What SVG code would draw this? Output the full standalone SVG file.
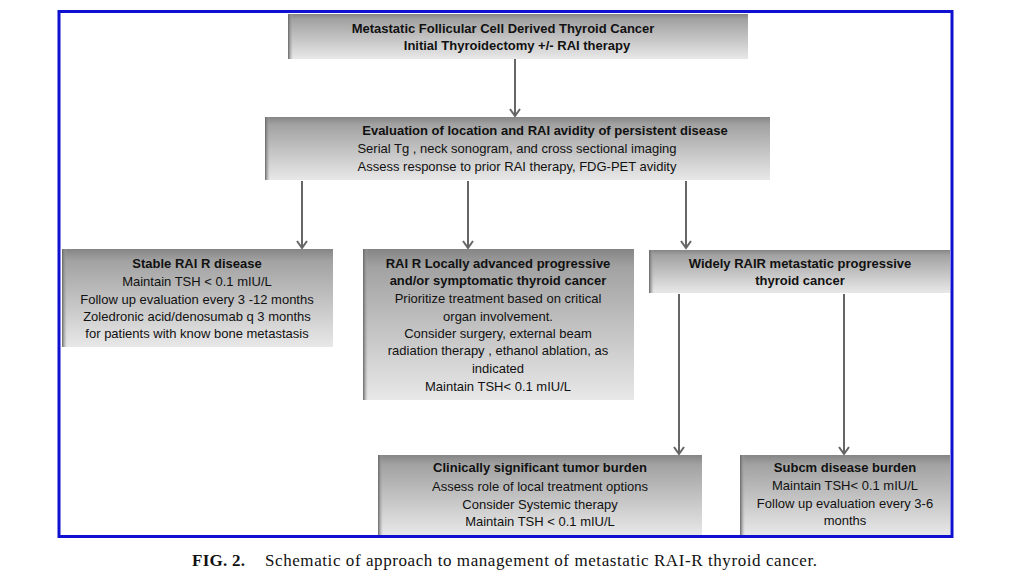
<svg xmlns="http://www.w3.org/2000/svg" width="1024" height="576" viewBox="0 0 1024 576">
<defs>
<linearGradient id="g" x1="0" y1="0" x2="0" y2="1">
<stop offset="0" stop-color="#858585"/>
<stop offset="0.12" stop-color="#a2a2a2"/>
<stop offset="1" stop-color="#e8e8e8"/>
</linearGradient>
<linearGradient id="edge" x1="0" y1="0" x2="1" y2="0">
<stop offset="0" stop-color="#666"/>
<stop offset="1" stop-color="#b0b0b0" stop-opacity="0"/>
</linearGradient>
<marker id="ah" viewBox="0 0 12 12" refX="10" refY="6" markerWidth="12" markerHeight="12" markerUnits="userSpaceOnUse" orient="auto">
<path d="M3,1 L10,6 L3,11" fill="none" stroke="#666" stroke-width="2"/>
</marker>
<style>
.box{fill:url(#g);}
.edge{fill:url(#edge);}
.t{font-family:"Liberation Sans",Arial,sans-serif;font-size:13px;fill:#111;text-anchor:middle;}
.b{font-weight:bold;}
.c{stroke:#666;stroke-width:2;fill:none;marker-end:url(#ah);}
.cap{font-family:"Liberation Serif","Times New Roman",serif;font-size:17px;fill:#111;}
</style>
</defs>
<rect width="1024" height="576" fill="#fff"/>
<rect x="59" y="11.5" width="893" height="525" fill="none" stroke="#1010d0" stroke-width="3"/>

<g id="connectors">
<line class="c" x1="515" y1="59" x2="515" y2="116"/>
<line class="c" x1="302" y1="181" x2="302" y2="248"/>
<line class="c" x1="468" y1="181" x2="468" y2="248"/>
<line class="c" x1="686" y1="181" x2="686" y2="248"/>
<line class="c" x1="679" y1="294" x2="679" y2="454"/>
<line class="c" x1="844" y1="294" x2="844" y2="454"/>
</g>

<g id="n1">
<rect class="box" x="288" y="14" width="460" height="45"/>
<rect class="edge" x="288" y="14" width="5" height="45"/>
<text class="t b" x="503" y="33">Metastatic Follicular Cell Derived Thyroid Cancer</text>
<text class="t b" x="517" y="50">Initial Thyroidectomy +/- RAI therapy</text>
</g>

<g id="n2">
<rect class="box" x="265" y="117" width="505" height="63"/>
<rect class="edge" x="265" y="117" width="5" height="63"/>
<text class="t b" x="545" y="135">Evaluation of location and RAI avidity of persistent disease</text>
<text class="t" x="517" y="153">Serial Tg , neck sonogram, and cross sectional imaging</text>
<text class="t" x="517" y="171">Assess response to prior RAI therapy, FDG-PET avidity</text>
</g>

<g id="n3">
<rect class="box" x="62" y="249" width="271" height="98"/>
<rect class="edge" x="62" y="249" width="5" height="98"/>
<text class="t b" x="197" y="268">Stable RAI R disease</text>
<text class="t" x="197" y="286">Maintain TSH &lt; 0.1 mIU/L</text>
<text class="t" x="197" y="304">Follow up evaluation every 3 -12 months</text>
<text class="t" x="197" y="321">Zoledronic acid/denosumab q 3 months</text>
<text class="t" x="197" y="338">for patients with know bone metastasis</text>
</g>

<g id="n4">
<rect class="box" x="363" y="249" width="271" height="151"/>
<rect class="edge" x="363" y="249" width="5" height="151"/>
<text class="t b" x="498" y="268">RAI R Locally advanced progressive</text>
<text class="t b" x="498" y="285">and/or symptomatic thyroid cancer</text>
<text class="t" x="498" y="303">Prioritize treatment based on critical</text>
<text class="t" x="498" y="321">organ involvement.</text>
<text class="t" x="498" y="338">Consider surgery, external beam</text>
<text class="t" x="498" y="355">radiation therapy , ethanol ablation, as</text>
<text class="t" x="498" y="373">indicated</text>
<text class="t" x="498" y="391">Maintain TSH&lt; 0.1 mIU/L</text>
</g>

<g id="n5">
<rect class="box" x="649" y="250" width="301" height="43"/>
<rect class="edge" x="649" y="250" width="5" height="43"/>
<text class="t b" x="800" y="268">Widely  RAIR metastatic  progressive</text>
<text class="t b" x="800" y="285">thyroid cancer</text>
</g>

<g id="n6">
<rect class="box" x="378" y="455" width="324" height="80"/>
<rect class="edge" x="378" y="455" width="5" height="80"/>
<text class="t b" x="540" y="472">Clinically significant tumor burden</text>
<text class="t" x="540" y="491">Assess role of local treatment options</text>
<text class="t" x="540" y="509">Consider Systemic therapy</text>
<text class="t" x="540" y="526">Maintain TSH &lt; 0.1 mIU/L</text>
</g>

<g id="n7">
<rect class="box" x="740" y="455" width="210" height="80"/>
<rect class="edge" x="740" y="455" width="5" height="80"/>
<text class="t b" x="845" y="472">Subcm disease burden</text>
<text class="t" x="845" y="490">Maintain TSH&lt; 0.1 mIU/L</text>
<text class="t" x="845" y="508">Follow up evaluation every 3-6</text>
<text class="t" x="845" y="525">months</text>
</g>

<text class="cap" x="192" y="566" font-weight="bold" textLength="53">FIG. 2.</text>
<text class="cap" x="265" y="566" textLength="552">Schematic of approach to management of metastatic RAI-R thyroid cancer.</text>
</svg>
